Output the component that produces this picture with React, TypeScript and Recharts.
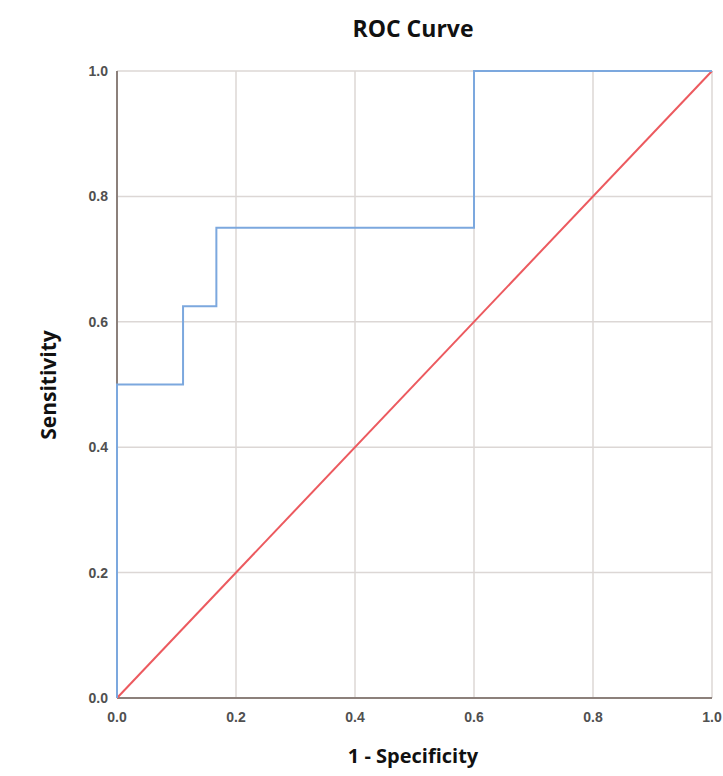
import React from 'react';
import { LineChart, Line, XAxis, YAxis, CartesianGrid, ReferenceLine } from 'recharts';

// ROC points (1 - specificity, sensitivity)
const rocFpr = [0, 0, 0.111, 0.167, 0.6, 1];
const rocTpr = [0, 0.5, 0.625, 0.75, 1, 1];

// reference diagonal
const refFpr = [0, 1];
const refTpr = [0, 1];

const axisTicks = [0, 0.2, 0.4, 0.6, 0.8, 1];

const rocData = rocFpr.map((x, i) => ({ fpr: x, tpr: rocTpr[i] }));
const refData = refFpr.map((x, i) => ({ fpr: x, tpr: refTpr[i] }));

const TITLE_FONT = '"Open Sans", "Noto Sans", sans-serif';
const tickStyle = { fontSize: 14, fill: '#505050', fontFamily: '"Liberation Sans", Arial, sans-serif', fontWeight: 600 };
const AXIS_COLOR = '#8c807b';

export default function App() {
  return (
    <div style={{ position: 'absolute', left: 0, top: 0, width: 723, height: 776, background: '#fff' }}>
      <div
        style={{
          position: 'absolute', left: 0, width: 826, top: 12, textAlign: 'center',
          fontFamily: TITLE_FONT, fontWeight: 700, fontSize: 23, color: '#111',
        }}
      >
        ROC Curve
      </div>
      <LineChart width={723} height={776} margin={{ top: 71, right: 11, bottom: 0, left: 0 }}>
        <CartesianGrid stroke="#dcd7d5" strokeWidth={1.5} horizontalValues={axisTicks} verticalValues={axisTicks} />
        <XAxis
          type="number"
          dataKey="fpr"
          domain={[0, 1]}
          ticks={axisTicks}
          tickFormatter={(v: number) => v.toFixed(1)}
          height={78}
          tickLine={false}
          tickSize={0}
          tickMargin={14}
          axisLine={false}
          tick={tickStyle}
        />
        <YAxis
          type="number"
          dataKey="tpr"
          domain={[0, 1]}
          ticks={axisTicks}
          tickFormatter={(v: number) => v.toFixed(1)}
          width={117}
          tickLine={false}
          tickSize={0}
          tickMargin={9}
          axisLine={false}
          tick={tickStyle}
        />
        <ReferenceLine x={0} stroke={AXIS_COLOR} strokeWidth={2} />
        <ReferenceLine y={0} stroke={AXIS_COLOR} strokeWidth={2} />
        <Line
          data={refData}
          dataKey="tpr"
          type="linear"
          stroke="#ec5a5f"
          strokeWidth={2}
          dot={false}
          isAnimationActive={false}
        />
        <Line
          data={rocData}
          dataKey="tpr"
          type="stepAfter"
          stroke="#7ca8de"
          strokeWidth={2}
          dot={false}
          isAnimationActive={false}
        />
      </LineChart>
      <div
        style={{
          position: 'absolute', left: 0, width: 826, top: 742, textAlign: 'center',
          fontFamily: TITLE_FONT, fontWeight: 700, fontSize: 20, color: '#111',
        }}
      >
        1 - Specificity
      </div>
      <div
        style={{
          position: 'absolute', left: 48, top: 385, transform: 'translate(-50%, -50%) rotate(-90deg)',
          fontFamily: TITLE_FONT, fontWeight: 700, fontSize: 21, color: '#111', whiteSpace: 'nowrap',
        }}
      >
        Sensitivity
      </div>
    </div>
  );
}
